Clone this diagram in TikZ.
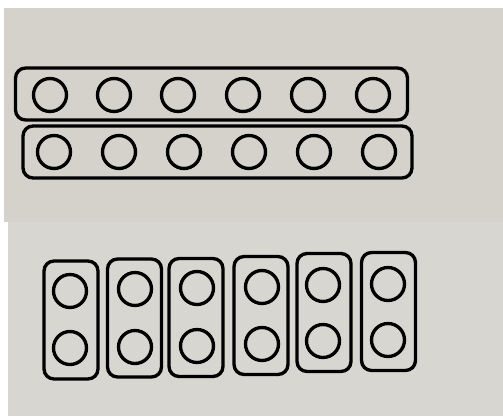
\documentclass[tikz,border=0pt]{standalone}
\usepackage{xcolor}
\usepackage{tikz}
\usetikzlibrary{positioning}

\definecolor{paperTop}{HTML}{D4D2CB}
\definecolor{paperBot}{HTML}{D8D6D0}

\begin{document}
\begin{tikzpicture}[
    x=0.02cm, y=-0.02cm,
    dot/.style={
        circle,
        draw,
        line width=1.9pt,
        minimum size=0.66cm,
        inner sep=0pt
    },
    bar/.style={
        rectangle,
        draw,
        rounded corners=0.2cm,
        line width=1.9pt,
        minimum width=7.84cm,
        minimum height=1.04cm
    },
    pod/.style={
        rectangle,
        draw,
        rounded corners=0.2cm,
        line width=1.9pt,
        minimum width=1.08cm,
        minimum height=2.36cm
    }
]

% paper
\useasboundingbox (0,0) rectangle (503,419);
\fill[white] (0,0) rectangle (503,419);
\fill[paperTop] (4,8) rectangle (503,222);
\fill[paperBot] (8,222) rectangle (503,416);

% two long bars
\node (row1) [bar] at (211.5,94) {};
\node (row2) [bar, minimum width=7.78cm] at (217.5,152) {};

\node (a1) [dot] at (50,95) {};
\node (a2) [dot] at (114,95) {};
\node (a3) [dot] at (178,95) {};
\node (a4) [dot] at (243,95) {};
\node (a5) [dot] at (308,95) {};
\node (a6) [dot] at (373,95) {};

\node (b1) [dot] at (54,152) {};
\node (b2) [dot] at (119,152) {};
\node (b3) [dot] at (184,152) {};
\node (b4) [dot] at (249,152) {};
\node (b5) [dot] at (314,152) {};
\node (b6) [dot] at (379,152) {};

% six short pods
\node (p1) [pod] at (71,320) {};
\node (p2) [pod] at (134.5,318) {};
\node (p3) [pod] at (196,317.5) {};
\node (p4) [pod] at (261,315.5) {};
\node (p5) [pod] at (324,312.5) {};
\node (p6) [pod] at (388.5,311.5) {};

\node (u1) [dot] at (70,291) {};
\node (u2) [dot] at (135,289) {};
\node (u3) [dot] at (197,288) {};
\node (u4) [dot] at (262,287) {};
\node (u5) [dot] at (323,285) {};
\node (u6) [dot] at (388,284) {};

\node (d1) [dot] at (70,348) {};
\node (d2) [dot] at (135,347) {};
\node (d3) [dot] at (197,346) {};
\node (d4) [dot] at (262,344) {};
\node (d5) [dot] at (323,341) {};
\node (d6) [dot] at (388,340) {};

\end{tikzpicture}
\end{document}
